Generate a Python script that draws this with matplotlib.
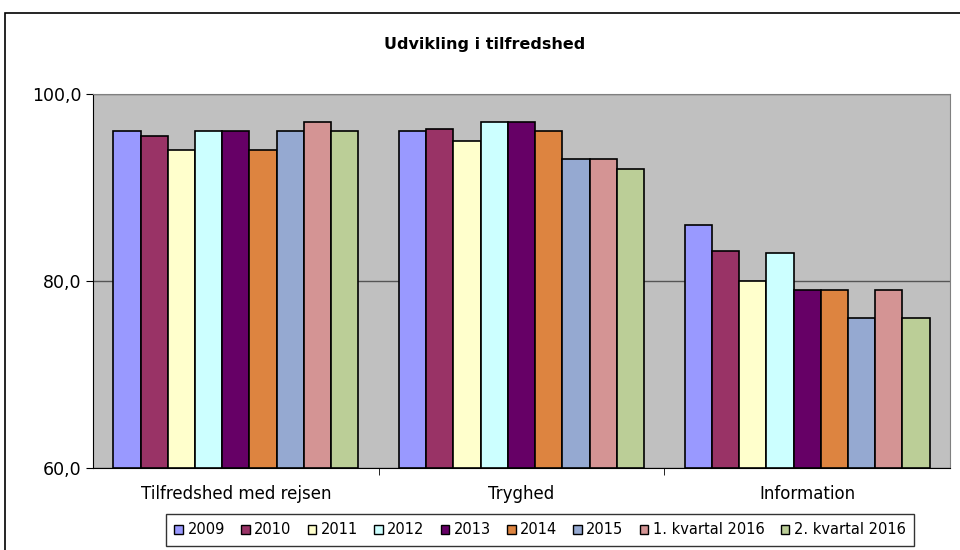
import matplotlib.pyplot as plt
from matplotlib.patches import Rectangle
from matplotlib.ticker import FuncFormatter

categories = ['Tilfredshed med rejsen', 'Tryghed', 'Information']
series = ['2009', '2010', '2011', '2012', '2013', '2014', '2015',
          '1. kvartal 2016', '2. kvartal 2016']
values = {
    '2009': [96.0, 96.0, 86.0],
    '2010': [95.5, 96.3, 83.2],
    '2011': [94.0, 95.0, 80.0],
    '2012': [96.0, 97.0, 83.0],
    '2013': [96.0, 97.0, 79.0],
    '2014': [94.0, 96.0, 79.0],
    '2015': [96.0, 93.0, 76.0],
    '1. kvartal 2016': [97.0, 93.0, 79.0],
    '2. kvartal 2016': [96.0, 92.0, 76.0],
}
colors = ['#9999FF', '#993366', '#FFFFCC', '#CCFFFF', '#660066',
          '#DD8440', '#95A9D1', '#D49494', '#BBCE97']

plt.rcParams['font.family'] = ['DejaVu Sans']

fig = plt.figure(figsize=(9.6, 5.5), dpi=100)
fig.patches.append(Rectangle((5 / 960, -0.01), 1.0, 1 - 13 / 550 + 0.01,
                             transform=fig.transFigure, fill=False,
                             edgecolor='black', linewidth=1.2))
ax = fig.add_axes([93 / 960, 1 - 468 / 550, 857 / 960, 374 / 550])
ax.set_facecolor('#C0C0C0')

n = len(series)
bw = 0.857 / n
for j, s in enumerate(series):
    xs = [i - 0.857 / 2 + bw * (j + 0.5) for i in range(len(categories))]
    ax.bar(xs, [v - 60 for v in values[s]], bottom=60, width=bw,
           color=colors[j], edgecolor='black', linewidth=1.2, label=s, zorder=3)

ax.set_xlim(-0.5, len(categories) - 0.5)
ax.set_ylim(60, 100)
ax.set_yticks([60, 80, 100])
ax.yaxis.set_major_formatter(FuncFormatter(lambda v, p: f'{v:.1f}'.replace('.', ',')))
ax.yaxis.grid(True, color='#555555', linewidth=1, zorder=1)
ax.set_axisbelow(True)

ax.set_xticks([0.5, 1.5], minor=True)
ax.set_xticks(range(len(categories)))
ax.set_xticklabels(categories, fontsize=12)
ax.tick_params(axis='x', which='major', length=0, pad=12)
ax.tick_params(axis='x', which='minor', length=5, direction='out')
ax.tick_params(axis='y', labelsize=12.5, length=5, direction='out')

for side in ['top', 'right']:
    ax.spines[side].set_color('#808080')
ax.spines['left'].set_color('black')
ax.spines['bottom'].set_color('black')

fig.text(485 / 960, 1 - 45 / 550, 'Udvikling i tilfredshed', ha='center',
         va='center', fontsize=11.5, fontweight='bold')

leg = fig.legend(loc='center', bbox_to_anchor=(540 / 960, 1 - 530 / 550),
                 ncol=n, fontsize=10.5, frameon=True, fancybox=False,
                 handlelength=0.6, handleheight=0.6, handletextpad=0.3,
                 columnspacing=1.1, borderpad=0.6)
leg.get_frame().set_edgecolor('black')
leg.get_frame().set_linewidth(1)
for h in leg.legend_handles:
    h.set_linewidth(1)

fig.savefig('out.png', dpi=100)
